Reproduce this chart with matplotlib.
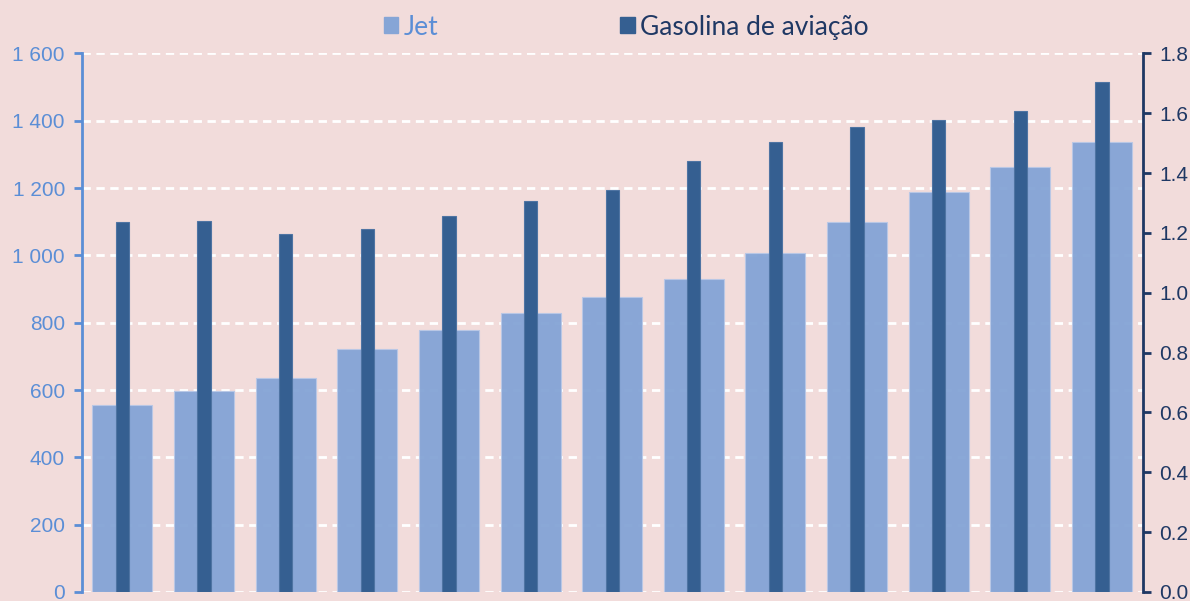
import matplotlib
matplotlib.use("Agg")
import matplotlib.pyplot as plt
import numpy as np
from matplotlib.patches import Patch

# Data
categories = [str(i) for i in range(1, 14)]
jet = [556, 596, 636, 723, 778, 830, 876, 930, 1007, 1100, 1187, 1263, 1336]
gasolina = [1.236, 1.239, 1.197, 1.212, 1.256, 1.306, 1.343, 1.44, 1.504, 1.555, 1.577, 1.607, 1.704]
left_ticks = [0, 200, 400, 600, 800, 1000, 1200, 1400, 1600]
left_labels = ["0", "200", "400", "600", "800", "1 000", "1 200", "1 400", "1 600"]
right_ticks = [0.0, 0.2, 0.4, 0.6, 0.8, 1.0, 1.2, 1.4, 1.6, 1.8]
right_labels = ["0.0", "0.2", "0.4", "0.6", "0.8", "1.0", "1.2", "1.4", "1.6", "1.8"]

BG = "#F2DCDB"
JET_C = "#86A5D6"
GAS_C = "#355F91"
LEFT_C = "#5B8ED6"
RIGHT_C = "#1F3864"

plt.rcParams['font.family'] = ['Liberation Sans', 'DejaVu Sans']

fig = plt.figure(figsize=(11.9, 6.01), dpi=100, facecolor=BG)
ax = fig.add_axes([0.0686, 0.015, 0.8917, 0.896])
ax.set_facecolor(BG)
x = np.arange(len(categories))

ax.bar(x, jet, width=0.735, color=JET_C, edgecolor="#B9C8E6", linewidth=0.8, alpha=0.97, zorder=2)
ax.set_ylim(0, 1600)
ax.set_xlim(-0.5, len(categories) - 0.5)
ax.set_yticks(left_ticks)
ax.set_yticklabels(left_labels)
ax.yaxis.grid(True, color="white", linestyle=(0, (3, 2)), linewidth=2.0, zorder=1)
ax.set_axisbelow(True)
ax.set_xticks([])
for s in ["top", "bottom", "right"]:
    ax.spines[s].set_visible(False)
ax.spines["left"].set_color(LEFT_C)
ax.spines["left"].set_linewidth(2)
ax.tick_params(axis="y", colors=LEFT_C, labelsize=15, length=6, width=2, pad=6)

ax2 = ax.twinx()
ax2.patch.set_visible(False)
ax2.bar(x, gasolina, width=0.163, color=GAS_C, edgecolor="#4F74A3", linewidth=0.8, zorder=3)
ax2.set_ylim(0, 1.8)
ax2.set_yticks(right_ticks)
ax2.set_yticklabels(right_labels)
for s in ["top", "bottom", "left"]:
    ax2.spines[s].set_visible(False)
ax2.spines["right"].set_color(RIGHT_C)
ax2.spines["right"].set_linewidth(2)
ax2.tick_params(axis="y", colors=RIGHT_C, labelsize=15, length=6, width=2, pad=6)

handles = [Patch(facecolor=JET_C, edgecolor=JET_C), Patch(facecolor=GAS_C, edgecolor=GAS_C)]
leg = fig.legend(handles, ["Jet", "Gasolina de aviação"], ncol=2, loc="center left",
                 bbox_to_anchor=(384 / 1190, 0.955), frameon=False,
                 borderpad=0, borderaxespad=0,
                 prop={"family": ["Lato", "DejaVu Sans"], "size": 19},
                 handlelength=0.54, handleheight=0.54, handletextpad=0.2, columnspacing=6.9)
leg.get_texts()[0].set_color(LEFT_C)
leg.get_texts()[1].set_color(RIGHT_C)

fig.savefig("out.png", dpi=100, facecolor=BG)
